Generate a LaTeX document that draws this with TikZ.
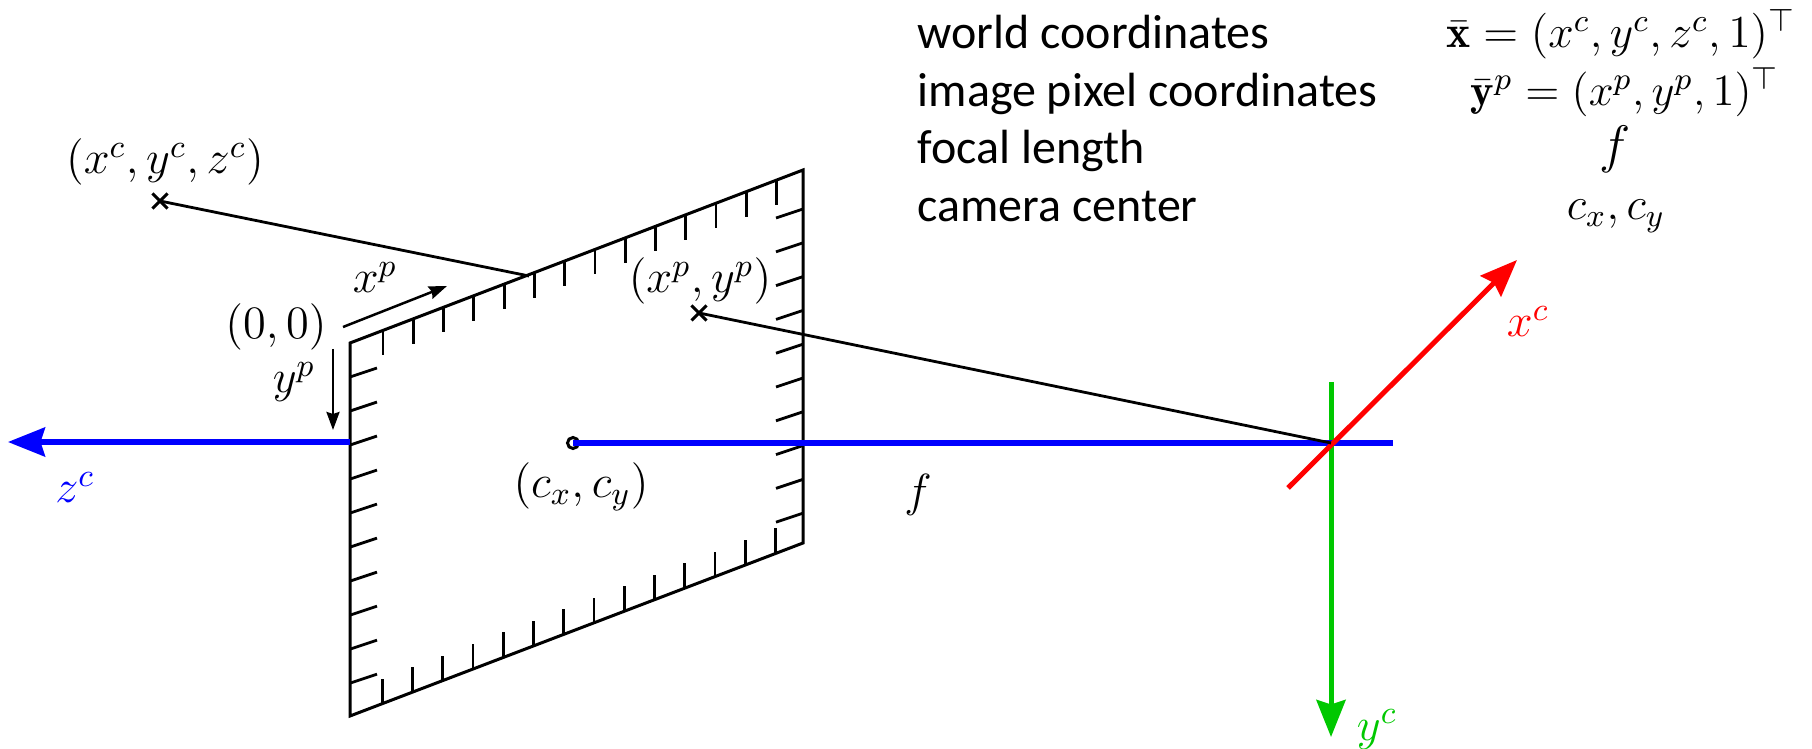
\RequirePackage{fix-cm}
\documentclass[tikz,border=0pt]{standalone}
\usepackage{fontspec}
\newfontfamily\legendfont{Carlito}
\usetikzlibrary{arrows.meta, calc, shapes.misc}
\definecolor{axisred}{HTML}{FF0000}
\definecolor{axisgreen}{HTML}{00C800}
\definecolor{axisblue}{HTML}{0000FF}
\tikzset{
  % bordo del piano immagine e raggi
  plane/.style={line width=0.3mm, black, line cap=round, line join=miter},
  ray/.style={line width=0.28mm, black},
  tick/.style={line width=0.28mm, black},
  % assi della camera
  axis/.style={line width=0.5mm},
  axistip/.style={-{Stealth[length=3.7mm, width=2.9mm, inset=0.45mm]}},
  % frecce piccole sul piano
  pixarrow/.style={line width=0.25mm, -{Stealth[length=1.8mm, width=1.3mm, inset=0.2mm]}},
  % punti
  crossmark/.style={cross out, draw=black, line width=0.3mm, minimum size=1.2mm, inner sep=0pt},
  centermark/.style={circle, draw=black, line width=0.3mm, minimum size=1.1mm, inner sep=0pt},
  % etichette
  lbl/.style={inner sep=0pt, anchor=base, font=\fontsize{13.2}{16}\selectfont},
  legend/.style={inner sep=0pt, anchor=base west, font=\fontsize{13.65}{16}\legendfont},
  eqn/.style={inner sep=0pt, anchor=base, font=\fontsize{13}{16}\selectfont},
}
\begin{document}
\begin{tikzpicture}[x=0.01cm, y=-0.01cm]
  \useasboundingbox (0,0) rectangle (1812,749);
  \coordinate (tl) at (350,343);
  \coordinate (tr) at (803,170);
  \coordinate (br) at (803,543);
  \coordinate (bl) at (350,716);
  \coordinate (hit) at (529,276);
  \coordinate (cam) at (1331,443);
  % piano immagine
  \draw[plane] (tl) -- (tr) -- (br) -- (bl) -- cycle;
  \foreach \k in {0,...,13} {
    \draw[tick] ($(tl)!{0.073+0.0668*\k}!(tr)$) -- ++(0,25);
    \draw[tick] ($(bl)!{0.071+0.0668*\k}!(br)$) -- ++(0,-25);
  }
  \foreach \k in {1,...,10} {
    \draw[tick] ($(tl)!{0.0912*\k}!(bl)$) -- ++(27,-9);
  }
  \foreach \k in {0,...,9} {
    \draw[tick] ($(tr)!{0.1046+0.0906*\k}!(br)$) -- ++(-27,9);
  }
  % assi
  \node[centermark] (pp) at (573,443) {};
  \coordinate (ztop) at (350,442);
  \coordinate (ztip) at (8,442);
  \coordinate (zend) at (1393,443);
  \coordinate (ystart) at (1331,382);
  \coordinate (ytip) at (1331,737);
  \coordinate (xstart) at (1288,488);
  \coordinate (xtip) at (1517,260);
  \draw[axis, axisgreen, axistip] (ystart) -- (ytip);
  \draw[axis, axisblue, axistip] (ztop) -- (ztip);
  \draw[axis, axisblue] (pp.center) -- (zend);
  \draw[axis, axisred, axistip] (xstart) -- (xtip);
  % raggi
  \node[crossmark] (world) at (160,201) {};
  \node[crossmark] (pix) at (699,313) {};
  \draw[ray] (world.center) -- (hit);
  \draw[ray] (pix.center) -- (cam);
  % frecce pixel
  \coordinate (xpa) at (343,327);
  \coordinate (xpb) at (447,286);
  \coordinate (ypa) at (333,349);
  \coordinate (ypb) at (333,430);
  \draw[pixarrow] (xpa) -- (xpb);
  \draw[pixarrow] (ypa) -- (ypb);
  % etichette
  \node[lbl] (worldlbl) at (165,174) {$(x^c,y^c,z^c)$};
  \node[lbl] (originlbl) at (276,339) {$(0,0)$};
  \node[lbl] (xplbl) at (375,293) {$x^p$};
  \node[lbl] (yplbl) at (294,393) {$y^p$};
  \node[lbl] (pixlbl) at (700,293) {$(x^p,y^p)$};
  \node[lbl] (pplbl) at (581,498) {$(c_x,c_y)$};
  \node[lbl] (flbl) at (918,506) {$f$};
  \node[lbl, text=axisblue] (zlbl) at (75,503) {$z^c$};
  \node[lbl, text=axisred] (xlbl) at (1528,337) {$x^c$};
  \node[lbl, text=axisgreen] (ylbl) at (1377,740) {$y^c$};
  % legenda
  \foreach \y/\n/\t in {49/a/world coordinates, 107/b/image pixel coordinates, 164/c/focal length, 222/d/camera center} {
    \node[legend] (leg\n) at (917,\y) {\t};
  }
  \node[eqn] (eqa) at (1621,48) {$\bar{\mathbf{x}}=(x^c,y^c,z^c,1)^\top$};
  \node[eqn, font=\fontsize{12.7}{16}\selectfont] (eqb) at (1625,106) {$\bar{\mathbf{y}}^p=(x^p,y^p,1)^\top$};
  \node[eqn, font=\fontsize{15}{18}\selectfont] (eqc) at (1615,163) {$f$};
  \node[eqn] (eqd) at (1616,220) {$c_x,c_y$};
\end{tikzpicture}
\end{document}
